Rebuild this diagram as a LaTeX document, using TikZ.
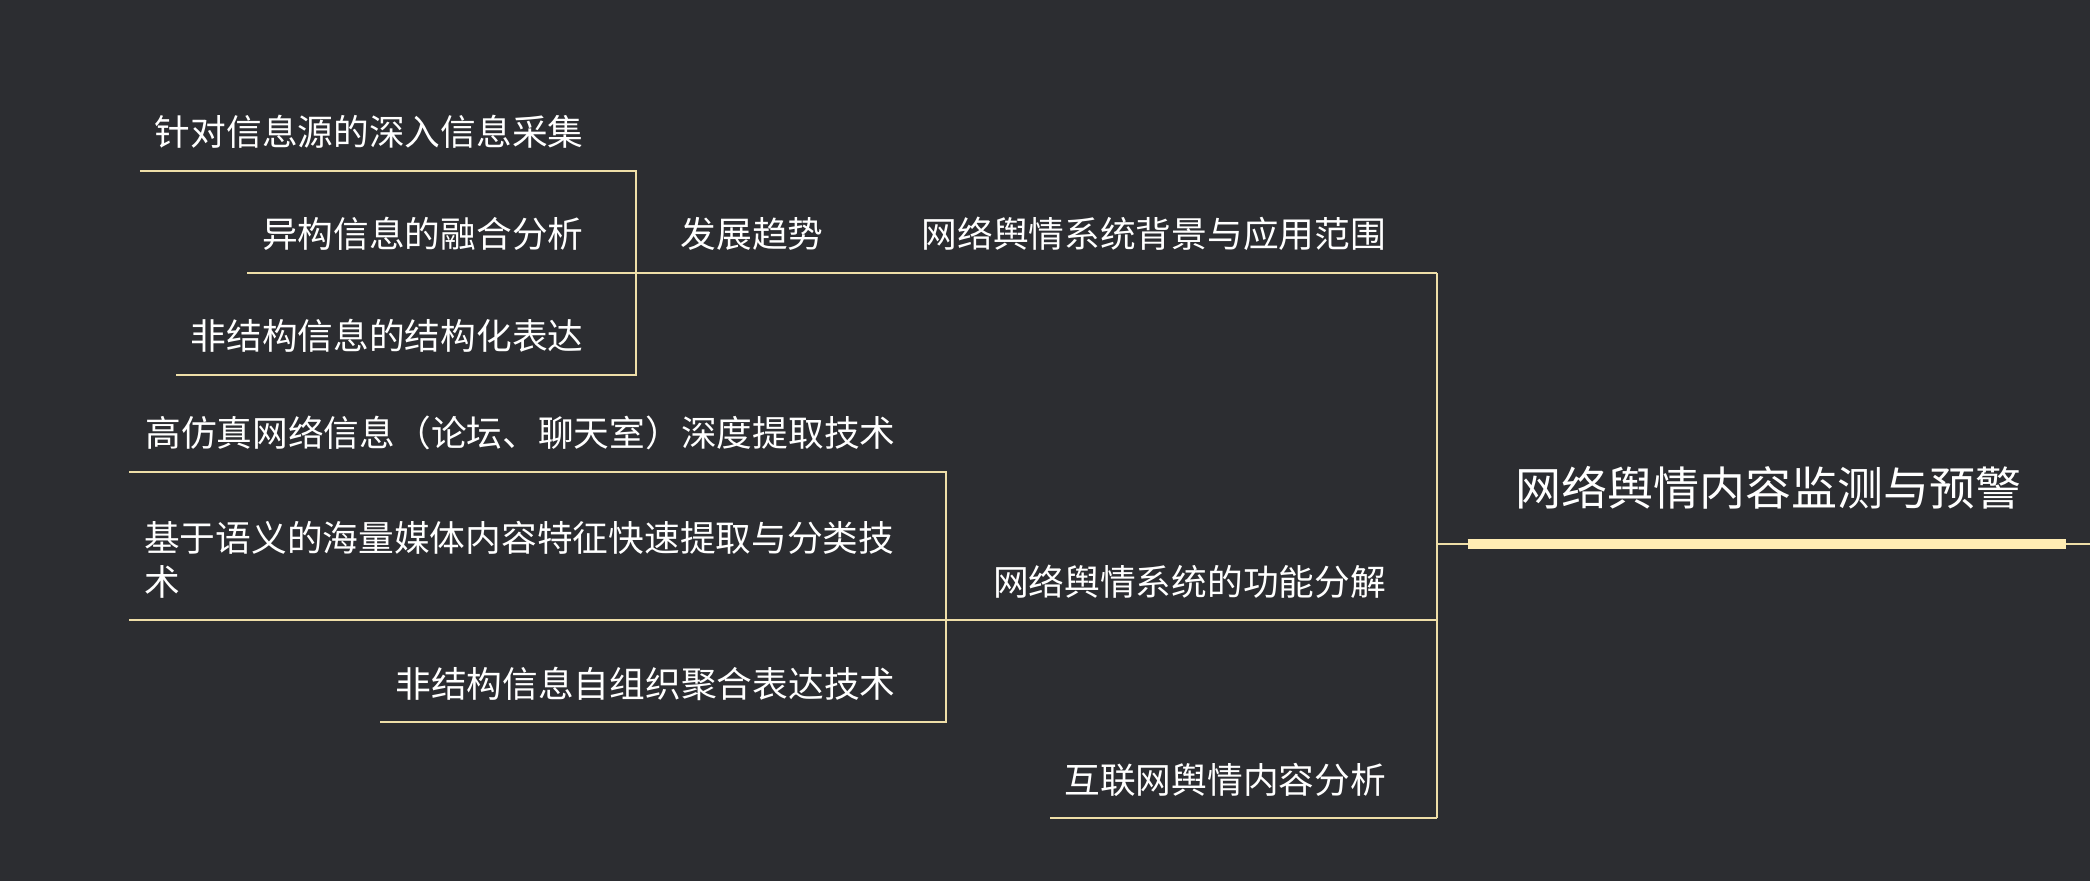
\documentclass[tikz,border=0pt]{standalone}
\usepackage{fontspec}
\setmainfont{Noto Sans CJK SC}
\definecolor{bg}{RGB}{44,45,49}
\definecolor{ln}{RGB}{238,222,168}
\definecolor{barc}{RGB}{255,236,179}
\begin{document}
\begin{tikzpicture}[x=1pt,y=-1pt,
  every node/.style={inner sep=0pt, text=white},
  lbl/.style={font=\fontsize{26.8}{33}\selectfont},
  ttl/.style={font=\fontsize{34.5}{40}\selectfont},
  link/.style={draw=ln, line width=1.5pt}]
\fill[bg] (0,0) rectangle (1568,661);
\useasboundingbox (0,0) rectangle (1568,661);

% root
\node[ttl, anchor=base] (root) at (1326.5,379) {网络舆情内容监测与预警};
\coordinate (rootL) at (1101,408);
\coordinate (rootR) at (1550,408);
\coordinate (edgeR) at (1568,408);
\coordinate (hub) at (1078,408);
\draw[barc, line width=8pt] (rootL) -- (rootR);
\draw[link] (hub) -- (rootL);
\draw[link] (rootR) -- (edgeR);

% main trunk
\coordinate (aR) at (1078,205);
\coordinate (bR) at (1078,465);
\coordinate (cR) at (1078,614);
\draw[link] (aR) -- (cR);

% branch A
\node[lbl, anchor=base east] (a) at (1040,186) {网络舆情系统背景与应用范围};
\node[lbl, anchor=base east] (a1) at (618,186) {发展趋势};
\coordinate (a1R) at (477,205);
\draw[link] (aR) -- (a1R);
\node[lbl, anchor=base east] (g1) at (438,109) {针对信息源的深入信息采集};
\node[lbl, anchor=base east] (g2) at (438,186) {异构信息的融合分析};
\node[lbl, anchor=base east] (g3) at (438,262) {非结构信息的结构化表达};
\coordinate (g1L) at (105,128); \coordinate (g1R) at (477,128);
\coordinate (g2L) at (185,205);
\coordinate (g3L) at (132,281); \coordinate (g3R) at (477,281);
\draw[link] (g1L) -- (g1R) -- (g3R) -- (g3L);
\draw[link] (a1R) -- (g2L);

% branch B
\node[lbl, anchor=base east] (b) at (1040,447) {网络舆情系统的功能分解};
\coordinate (bL) at (710,465);
\draw[link] (bR) -- (bL);
\node[lbl, anchor=base east] (b1) at (672,335) {高仿真网络信息（论坛、聊天室）深度提取技术};
\node[lbl, anchor=base west, align=left] (b2) at (108,447) {基于语义的海量媒体内容特征快速提取与分类技\\术};
\node[lbl, anchor=base east] (b3) at (672,523) {非结构信息自组织聚合表达技术};
\coordinate (b1L) at (97,354); \coordinate (b1R) at (710,354);
\coordinate (b2L) at (97,465);
\coordinate (b3L) at (285,542); \coordinate (b3R) at (710,542);
\draw[link] (b1L) -- (b1R) -- (b3R) -- (b3L);
\draw[link] (bL) -- (b2L);

% branch C
\node[lbl, anchor=base east] (c) at (1040,595) {互联网舆情内容分析};
\coordinate (cL) at (788,614);
\draw[link] (cR) -- (cL);
\end{tikzpicture}
\end{document}
